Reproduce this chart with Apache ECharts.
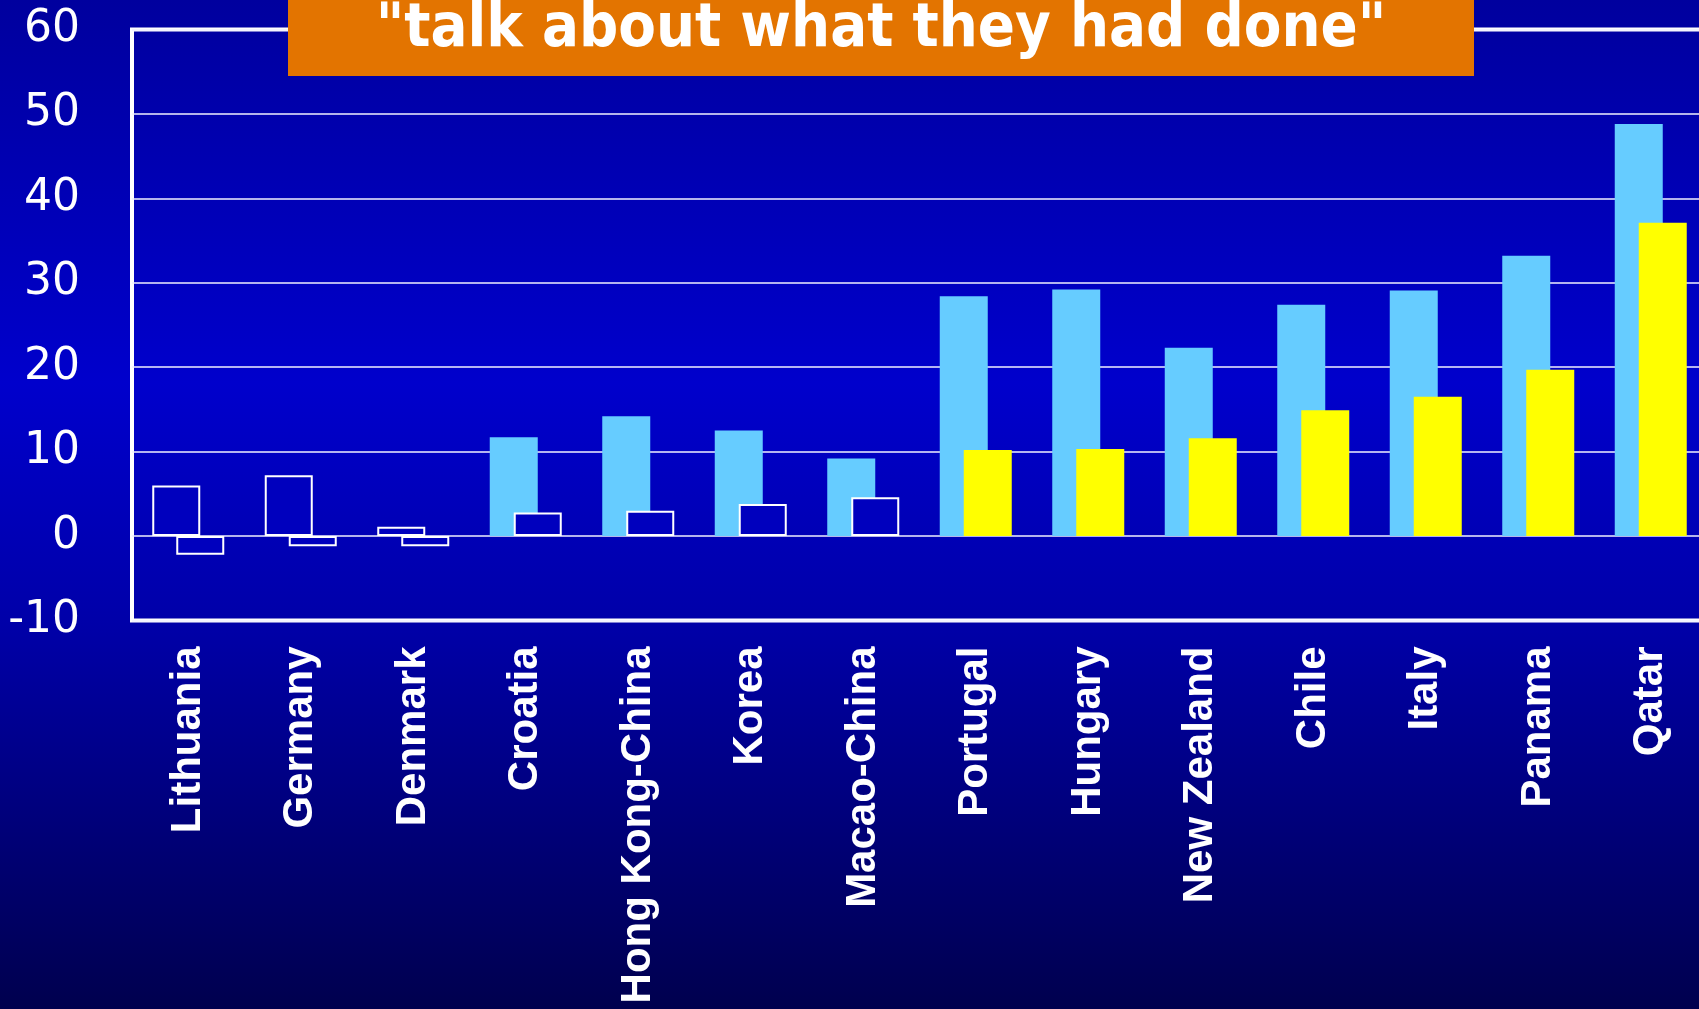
<!DOCTYPE html>
<html>
<head>
<meta charset="utf-8">
<script src="https://cdn.jsdelivr.net/npm/echarts@6/dist/echarts.min.js"></script>
<style>
  html, body { margin: 0; padding: 0; width: 100%; height: 100%; overflow: hidden; }
  #chart { width: 1699px; height: 1009px; }
</style>
</head>
<body>
<div id="chart"></div>
<script>
// Countries along the x axis
const categories = ['Lithuania', 'Germany', 'Denmark', 'Croatia', 'Hong Kong-China', 'Korea', 'Macao-China',
  'Portugal', 'Hungary', 'New Zealand', 'Chile', 'Italy', 'Panama', 'Qatar'];

// Two measures per country (percentage-point differences)
const valuesFirst = [6.0, 7.2, 1.1, 11.7, 14.2, 12.5, 9.2, 28.4, 29.2, 22.3, 27.4, 29.1, 33.2, 48.8];
const valuesSecond = [-2.2, -1.2, -1.2, 2.8, 3.0, 3.8, 4.6, 10.2, 10.3, 11.6, 14.9, 16.5, 19.7, 37.1];

// Whether each difference is significant (filled bar) or not (hollow bar)
const significantFirst = [false, false, false, true, true, true, true, true, true, true, true, true, true, true];
const significantSecond = [false, false, false, false, false, false, false, true, true, true, true, true, true, true];

// Value axis range and step
const yMin = -10;
const yMax = 60;
const yStep = 10;

const headline = '"talk about what they had done"';

const hollowStyle = { color: '#0000BE', borderColor: '#FFFFFF', borderWidth: 2 };

function buildItems(values, flags, fillColor) {
  return values.map((v, i) => ({
    value: v,
    itemStyle: flags[i] ? { color: fillColor, borderWidth: 0 } : hollowStyle
  }));
}

const chart = echarts.init(document.getElementById('chart'), null, { renderer: 'canvas' });

chart.setOption({
  animation: false,
  backgroundColor: {
    type: 'linear', x: 0, y: 0, x2: 0, y2: 1,
    colorStops: [
      { offset: 0, color: '#00009E' },
      { offset: 0.38, color: '#0000CC' },
      { offset: 0.62, color: '#0000A8' },
      { offset: 1, color: '#00004E' }
    ]
  },
  grid: {
    left: 132, top: 29.5, width: 1575, height: 591,
    outerBoundsMode: 'none',
    containLabel: false,
    show: true, borderColor: '#FFFFFF', borderWidth: 4, backgroundColor: 'transparent'
  },
  xAxis: {
    type: 'category',
    data: categories,
    axisLine: { show: false, onZero: false },
    axisTick: { show: false },
    axisLabel: {
      rotate: 90, margin: 26, interval: 0,
      color: '#FFFFFF', fontFamily: 'Liberation Sans, Arial, sans-serif',
      fontWeight: 'bold', fontSize: 42
    }
  },
  yAxis: {
    type: 'value',
    min: yMin, max: yMax, interval: yStep,
    axisLine: { show: false },
    axisTick: { show: false },
    axisLabel: {
      margin: 52, color: '#FFFFFF',
      fontFamily: 'DejaVu Sans, sans-serif', fontSize: 44
    },
    splitLine: { show: true, lineStyle: { color: '#F0F0FF', width: 1.5 } }
  },
  series: [
    {
      name: 'first',
      type: 'bar',
      barWidth: 48,
      barGap: '-50%',
      data: buildItems(valuesFirst, significantFirst, '#66CCFF')
    },
    {
      name: 'second',
      type: 'bar',
      barWidth: 48,
      barGap: '-50%',
      data: buildItems(valuesSecond, significantSecond, '#FFFF00')
    }
  ],
  graphic: [
    {
      type: 'rect', z: 100,
      shape: { x: 288, y: 0, width: 1186, height: 76 },
      style: { fill: '#E37400' }
    },
    {
      type: 'text', z: 101,
      x: 881, y: 30,
      style: {
        text: headline, fill: '#FFFFFF',
        font: 'bold 61px "DejaVu Sans Condensed", "DejaVu Sans", sans-serif',
        textAlign: 'center', textVerticalAlign: 'middle'
      }
    }
  ]
});
</script>
</body>
</html>
